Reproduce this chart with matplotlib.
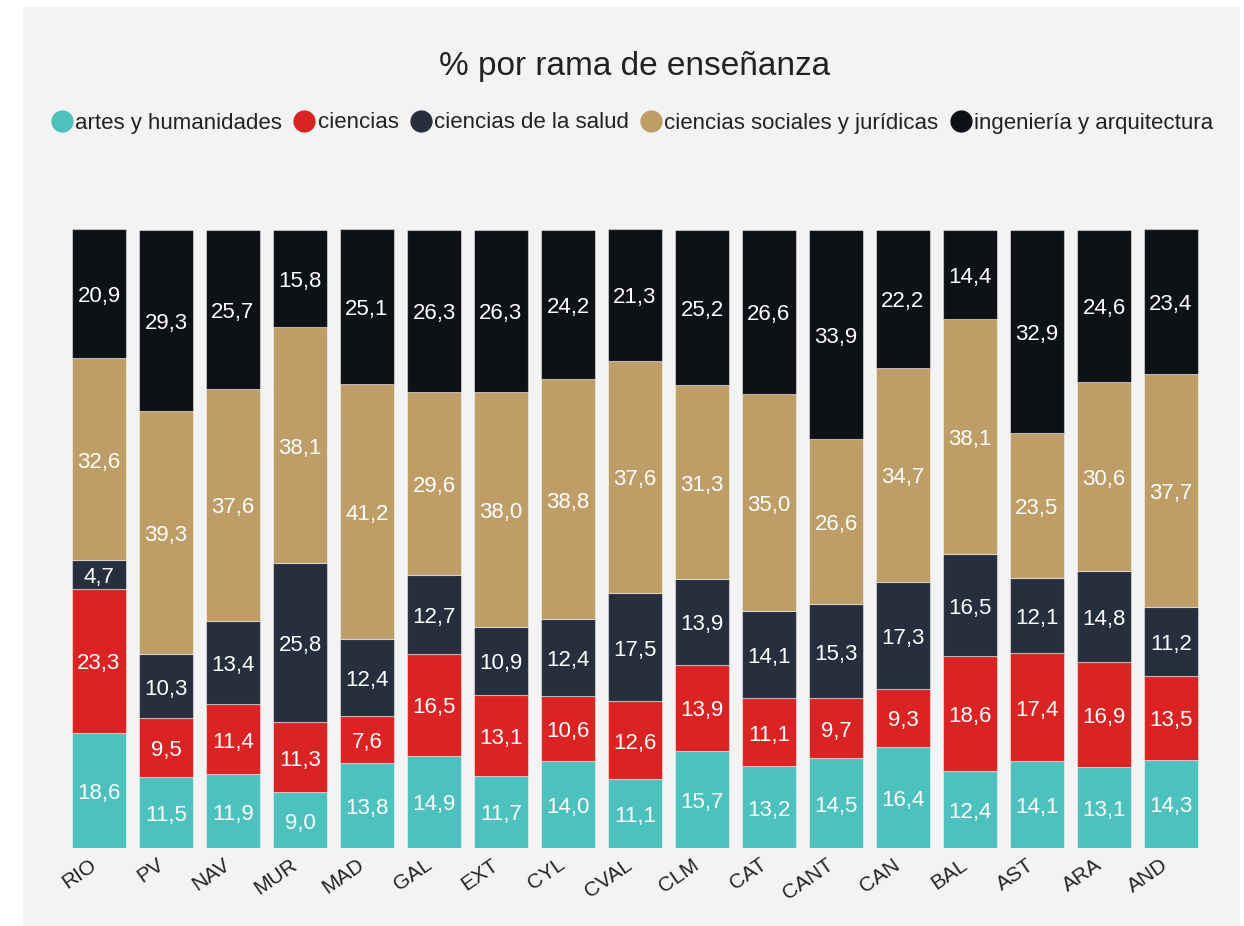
import numpy as np
import matplotlib
matplotlib.use('Agg')
import matplotlib.pyplot as plt
import matplotlib.patches as patches
import matplotlib.transforms as mtransforms
from matplotlib.lines import Line2D

plt.rcParams['font.family'] = ['Liberation Sans', 'DejaVu Sans']

# Data (percent per branch)
regiones = ['RIO', 'PV', 'NAV', 'MUR', 'MAD', 'GAL', 'EXT', 'CYL', 'CVAL',
            'CLM', 'CAT', 'CANT', 'CAN', 'BAL', 'AST', 'ARA', 'AND']
artes = [18.6, 11.5, 11.9, 9.0, 13.8, 14.9, 11.7, 14.0, 11.1,
         15.7, 13.2, 14.5, 16.4, 12.4, 14.1, 13.1, 14.3]
ciencias = [23.3, 9.5, 11.4, 11.3, 7.6, 16.5, 13.1, 10.6, 12.6,
            13.9, 11.1, 9.7, 9.3, 18.6, 17.4, 16.9, 13.5]
salud = [4.7, 10.3, 13.4, 25.8, 12.4, 12.7, 10.9, 12.4, 17.5,
         13.9, 14.1, 15.3, 17.3, 16.5, 12.1, 14.8, 11.2]
sociales = [32.6, 39.3, 37.6, 38.1, 41.2, 29.6, 38.0, 38.8, 37.6,
            31.3, 35.0, 26.6, 34.7, 38.1, 23.5, 30.6, 37.7]
ingenieria = [20.9, 29.3, 25.7, 15.8, 25.1, 26.3, 26.3, 24.2, 21.3,
              25.2, 26.6, 33.9, 22.2, 14.4, 32.9, 24.6, 23.4]

series = [
    ('artes y humanidades', artes, '#4DC1BE'),
    ('ciencias', ciencias, '#DC2323'),
    ('ciencias de la salud', salud, '#252F3E'),
    ('ciencias sociales y jurídicas', sociales, '#BF9D66'),
    ('ingeniería y arquitectura', ingenieria, '#0E1116'),
]

W, H = 1244, 926
fig = plt.figure(figsize=(W / 100, H / 100), dpi=100)
fig.patch.set_facecolor('white')

# light gray panel behind everything
fig.patches.append(patches.Rectangle((23 / W, 0), (1240 - 23) / W, (926 - 7) / H,
                                     transform=fig.transFigure, facecolor='#F3F3F3',
                                     edgecolor='none', zorder=-10))

left, right = 65.5, 1204.5
top, bottom = 229, 848
ax = fig.add_axes([left / W, 1 - bottom / H, (right - left) / W, (bottom - top) / H])
ax.set_facecolor('none')

# small downward nudge for the value labels
nudge = mtransforms.ScaledTranslation(0, -0.03, fig.dpi_scale_trans)

x = np.arange(len(regiones))
base = np.zeros(len(regiones))
for name, vals, col in series:
    vals = np.array(vals)
    ax.bar(x, vals, width=0.8, bottom=base, color=col,
           edgecolor=(1, 1, 1, 0.45), linewidth=0.8, label=name)
    for xi, b, v in zip(x, base, vals):
        ax.text(xi, b + v / 2, f'{v:.1f}'.replace('.', ','), ha='center', va='center',
                color='white', fontsize=16, transform=ax.transData + nudge)
    base += vals

ax.set_xlim(-0.5, len(regiones) - 0.5)
ax.set_ylim(0, 100.1)
ax.set_yticks([])
for s in ax.spines.values():
    s.set_visible(False)
ax.set_xticks(x)
ax.set_xticklabels(regiones, rotation=35, ha='right', va='top', rotation_mode='anchor',
                   fontsize=15, color='#222222')
ax.tick_params(axis='x', length=0, pad=5)
shift = mtransforms.ScaledTranslation(-0.1, 0, fig.dpi_scale_trans)
for lbl in ax.get_xticklabels():
    lbl.set_transform(lbl.get_transform() + shift)

fig.text(635 / W, 1 - 66 / H, '% por rama de enseñanza', ha='center', va='center',
         fontsize=24, color='#222222')

handles = [Line2D([], [], marker='o', linestyle='none', markersize=16,
                  markerfacecolor=col, markeredgecolor='none') for _, _, col in series]
labels = [name for name, _, _ in series]
leg = fig.legend(handles, labels, loc='center', bbox_to_anchor=(632 / W, 1 - 123 / H),
                 ncol=5, frameon=False, fontsize=16, handlelength=1.0,
                 handletextpad=0.1, columnspacing=0.5, borderaxespad=0)
for t in leg.get_texts():
    t.set_color('#222222')

fig.savefig('out.png', dpi=100)
